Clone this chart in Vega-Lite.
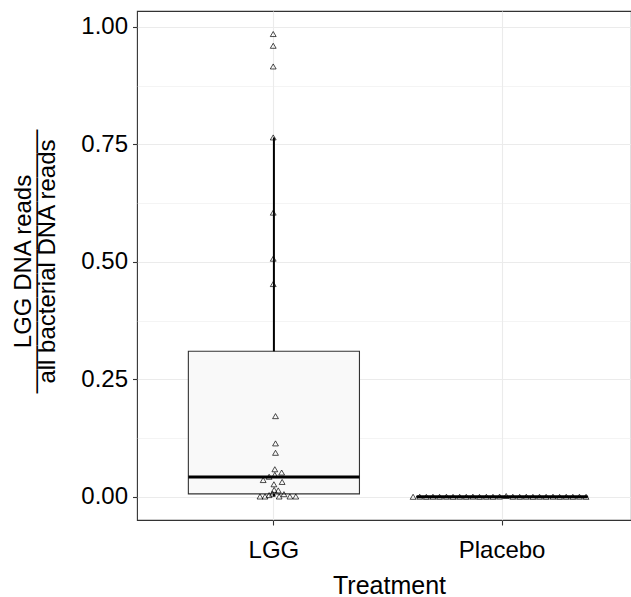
{
  "$schema": "https://vega.github.io/schema/vega-lite/v6.json",
  "width": 494,
  "height": 509,
  "autosize": "none",
  "padding": {"left": 137, "top": 11, "right": 0, "bottom": 77},
  "background": "white",
  "config": {
    "font": "Liberation Sans",
    "view": {"stroke": "#333333", "strokeWidth": 1.1}
  },
  "datasets": {
    "points": [
      {"Treatment": "LGG", "value": 0.985, "offset": -0.003},
      {"Treatment": "LGG", "value": 0.960, "offset": -0.003},
      {"Treatment": "LGG", "value": 0.916, "offset": -0.003},
      {"Treatment": "LGG", "value": 0.765, "offset": -0.003},
      {"Treatment": "LGG", "value": 0.605, "offset": -0.003},
      {"Treatment": "LGG", "value": 0.507, "offset": -0.003},
      {"Treatment": "LGG", "value": 0.453, "offset": -0.003},
      {"Treatment": "LGG", "value": 0.172, "offset": 0.007},
      {"Treatment": "LGG", "value": 0.114, "offset": 0.007},
      {"Treatment": "LGG", "value": 0.094, "offset": 0.007},
      {"Treatment": "LGG", "value": 0.059, "offset": 0.004},
      {"Treatment": "LGG", "value": 0.052, "offset": 0.034},
      {"Treatment": "LGG", "value": 0.047, "offset": 0.004},
      {"Treatment": "LGG", "value": 0.043, "offset": -0.021},
      {"Treatment": "LGG", "value": 0.036, "offset": -0.047},
      {"Treatment": "LGG", "value": 0.032, "offset": 0.036},
      {"Treatment": "LGG", "value": 0.027, "offset": 0.000},
      {"Treatment": "LGG", "value": 0.015, "offset": 0.001},
      {"Treatment": "LGG", "value": 0.014, "offset": 0.019},
      {"Treatment": "LGG", "value": 0.007, "offset": -0.006},
      {"Treatment": "LGG", "value": 0.006, "offset": 0.044},
      {"Treatment": "LGG", "value": 0.004, "offset": -0.021},
      {"Treatment": "LGG", "value": 0.001, "offset": -0.061},
      {"Treatment": "LGG", "value": 0.001, "offset": -0.039},
      {"Treatment": "LGG", "value": 0.001, "offset": 0.023},
      {"Treatment": "LGG", "value": 0.001, "offset": 0.070},
      {"Treatment": "LGG", "value": 0.001, "offset": 0.096},
      {"Treatment": "Placebo", "value": 0.0004, "offset": -0.390},
      {"Treatment": "Placebo", "value": 0.0006, "offset": -0.361},
      {"Treatment": "Placebo", "value": 0.0003, "offset": -0.332},
      {"Treatment": "Placebo", "value": 0.0005, "offset": -0.303},
      {"Treatment": "Placebo", "value": 0.0004, "offset": -0.274},
      {"Treatment": "Placebo", "value": 0.0006, "offset": -0.244},
      {"Treatment": "Placebo", "value": 0.0003, "offset": -0.215},
      {"Treatment": "Placebo", "value": 0.0005, "offset": -0.186},
      {"Treatment": "Placebo", "value": 0.0004, "offset": -0.157},
      {"Treatment": "Placebo", "value": 0.0007, "offset": -0.128},
      {"Treatment": "Placebo", "value": 0.0003, "offset": -0.099},
      {"Treatment": "Placebo", "value": 0.0005, "offset": -0.069},
      {"Treatment": "Placebo", "value": 0.0004, "offset": -0.040},
      {"Treatment": "Placebo", "value": 0.0008, "offset": -0.011},
      {"Treatment": "Placebo", "value": 0.0020, "offset": 0.018},
      {"Treatment": "Placebo", "value": 0.0005, "offset": 0.047},
      {"Treatment": "Placebo", "value": 0.0004, "offset": 0.077},
      {"Treatment": "Placebo", "value": 0.0006, "offset": 0.106},
      {"Treatment": "Placebo", "value": 0.0003, "offset": 0.135},
      {"Treatment": "Placebo", "value": 0.0005, "offset": 0.164},
      {"Treatment": "Placebo", "value": 0.0004, "offset": 0.193},
      {"Treatment": "Placebo", "value": 0.0006, "offset": 0.223},
      {"Treatment": "Placebo", "value": 0.0003, "offset": 0.252},
      {"Treatment": "Placebo", "value": 0.0005, "offset": 0.281},
      {"Treatment": "Placebo", "value": 0.0004, "offset": 0.310},
      {"Treatment": "Placebo", "value": 0.0006, "offset": 0.339},
      {"Treatment": "Placebo", "value": 0.0004, "offset": 0.368}
    ],
    "boxes": [
      {"Treatment": "LGG", "lower": 0.001, "q1": 0.0065, "median": 0.0425, "q3": 0.31, "upper": 0.765},
      {"Treatment": "Placebo", "lower": 0.0003, "q1": 0.0003, "median": 0.0005, "q3": 0.0008, "upper": 0.002}
    ]
  },
  "encoding": {
    "x": {
      "field": "Treatment",
      "type": "nominal",
      "title": "Treatment",
      "scale": {"type": "band", "domain": ["LGG", "Placebo"], "range": [0, 502], "paddingInner": 0.25, "paddingOuter": 0.225},
      "axis": {
        "grid": true,
        "gridColor": "#EBEBEB",
        "gridWidth": 1.1,
        "bandPosition": 0.5,
        "domain": false,
        "ticks": true,
        "tickSize": 5,
        "tickColor": "#333333",
        "tickWidth": 1.1,
        "labelFontSize": 24,
        "labelColor": "black",
        "labelPadding": 13,
        "labelAngle": 0,
        "titleFontSize": 25,
        "titleFontWeight": "normal",
        "titleColor": "black",
        "titleBaseline": "alphabetic",
        "titleX": 252,
        "titleY": 73
      }
    }
  },
  "layer": [
    {
      "data": {"name": "boxes"},
      "mark": {"type": "bar", "fill": "#F9F9F9", "stroke": "#333333", "strokeWidth": 1.1, "width": 171.1},
      "encoding": {
        "y": {"field": "q1", "type": "quantitative"},
        "y2": {"field": "q3"}
      }
    },
    {
      "data": {"name": "boxes"},
      "mark": {"type": "rule", "color": "black", "strokeWidth": 2},
      "encoding": {
        "y": {"field": "q3", "type": "quantitative"},
        "y2": {"field": "upper"}
      }
    },
    {
      "data": {"name": "boxes"},
      "mark": {"type": "rule", "color": "black", "strokeWidth": 2},
      "encoding": {
        "y": {"field": "lower", "type": "quantitative"},
        "y2": {"field": "q1"}
      }
    },
    {
      "data": {"name": "boxes"},
      "mark": {"type": "tick", "color": "black", "thickness": 3, "size": 171, "opacity": 1},
      "encoding": {
        "y": {"field": "median", "type": "quantitative"}
      }
    },
    {
      "data": {"name": "points"},
      "mark": {"type": "point", "shape": "triangle-up", "size": 34, "filled": false, "stroke": "black", "strokeWidth": 0.7, "opacity": 1},
      "encoding": {
        "xOffset": {"field": "offset", "type": "quantitative", "scale": {"domain": [-0.375, 0.375], "range": [0, 171.14]}},
        "y": {
          "field": "value",
          "type": "quantitative",
          "title": ["LGG DNA reads", "\u2014\u2014\u2014\u2014\u2014\u2014\u2014\u2014\u2014\u2014\u2014", "all bacterial DNA reads"],
          "scale": {"domain": [-0.049, 1.034], "nice": false, "zero": false},
          "axis": {
            "values": [0, 0.125, 0.25, 0.375, 0.5, 0.625, 0.75, 0.875, 1],
            "labelExpr": "(datum.value * 4) % 1 === 0 ? format(datum.value, '.2f') : ''",
            "labelOverlap": false,
            "labelFlush": false,
            "grid": true,
            "gridColor": "#EBEBEB",
            "gridWidth": {"condition": {"test": "(datum.value * 4) % 1 !== 0", "value": 0.55}, "value": 1.1},
            "tickOpacity": {"condition": {"test": "(datum.value * 4) % 1 !== 0", "value": 0}, "value": 1},
            "domain": false,
            "tickSize": 4.5,
            "tickColor": "#333333",
            "tickWidth": 1.1,
            "labelFontSize": 24,
            "labelColor": "black",
            "labelPadding": 5,
            "titleFontSize": 24,
            "titleFontWeight": "normal",
            "titleColor": "black",
            "titleAngle": -90,
            "titleAlign": "center",
            "titleBaseline": "alphabetic",
            "titleLineHeight": 12,
            "titleX": -107,
            "titleY": 250
          }
        }
      }
    }
  ]
}
